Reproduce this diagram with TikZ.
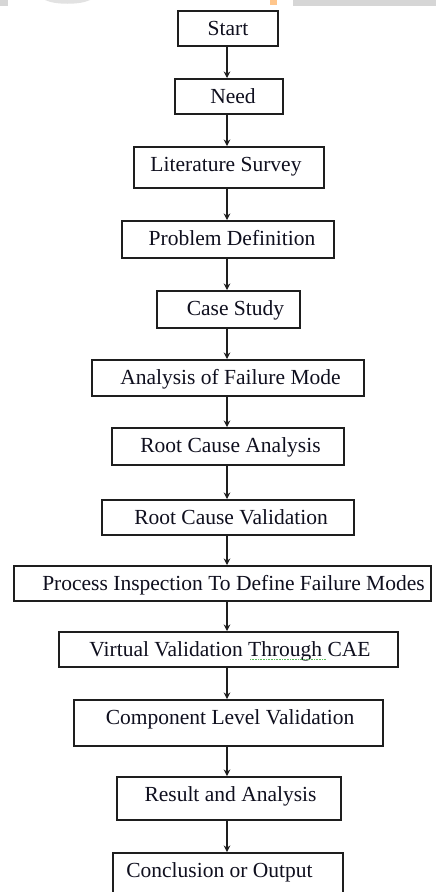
\documentclass[tikz,border=0pt]{standalone}
\usepackage{fontspec}
\setmainfont{Liberation Serif}
\usetikzlibrary{arrows.meta}
\definecolor{bandgrey}{RGB}{214,214,214}
\definecolor{lineclr}{RGB}{30,30,30}
\definecolor{txtclr}{RGB}{15,15,30}
\definecolor{squig}{RGB}{90,190,90}
\tikzset{
  stepbox/.style={draw=lineclr, line width=1.5pt, rectangle, inner sep=0pt, anchor=north west},
  steptext/.style={anchor=base, inner sep=0pt, text=txtclr, font=\fontsize{21.5}{24}\selectfont},
  arr/.style={draw=lineclr, line width=1.4pt, -{Stealth[length=6.5pt,width=6.5pt]}},
}
\newcommand{\stepnode}[7]{%
  % #1 name, #2 x1, #3 y1, #4 x2, #5 y2, #6 text x, #7 text
  \node[stepbox, minimum width={(#4-#2)*1pt}, minimum height={(#5-#3)*1pt}] (#1) at (#2,#3) {};
  \node[steptext] (#1-t) at (#6,#3+25) {#7};
}
\begin{document}
\begin{tikzpicture}[x=1pt,y=-1pt]
\useasboundingbox (0,0) rectangle (436,892);
\clip (0,0) rectangle (436,892);
\fill[white] (0,0) rectangle (436,892);
% top band
\fill[bandgrey] (0,0) rectangle (8,5.5);
\fill[bandgrey] (293,0) rectangle (436,5.5);
\fill[bandgrey!70] (45,0) .. controls (55,5) and (80,5) .. (90,0) -- cycle;
\fill[orange!45] (270,0) rectangle (277,5);
% boxes
\stepnode{start}{177}{10}{277}{45}{228}{Start}
\stepnode{need}{174}{78}{282}{113}{233}{Need}
\stepnode{lit}{133}{146}{323}{187}{226}{Literature Survey}
\stepnode{prob}{121}{220}{333}{257}{232}{Problem Definition}
\stepnode{case}{156}{290}{299}{327}{235.5}{Case Study}
\stepnode{afm}{91}{359}{363}{395}{230.5}{Analysis of Failure Mode}
\stepnode{rca}{111}{427}{343}{464}{230.5}{Root Cause Analysis}
\stepnode{rcv}{101}{499}{353}{534}{231}{Root Cause Validation}
\stepnode{proc}{13}{565}{430}{600}{233.5}{Process Inspection To Define Failure Modes}
\stepnode{virt}{58}{631}{397}{666}{230}{Virtual Validation Through CAE}
\stepnode{comp}{73}{699}{382}{745}{230}{Component Level Validation}
\stepnode{res}{116}{776}{340}{819}{230.5}{Result and Analysis}
\stepnode{conc}{112}{852}{342}{905}{219.5}{Conclusion or Output}
% spell-check squiggle under "Through"
\draw[squig, line width=0.8pt, dash pattern=on 0.8pt off 0.8pt] (250,659) -- (326,659);
% arrows
\coordinate (ax) at (227,0);
\foreach \a/\b in {start/need,need/lit,lit/prob,prob/case,case/afm,afm/rca,rca/rcv,rcv/proc,proc/virt,virt/comp,comp/res,res/conc}{
  \draw[arr] (\a.south -| ax) -- (\b.north -| ax);
}
\end{tikzpicture}
\end{document}
